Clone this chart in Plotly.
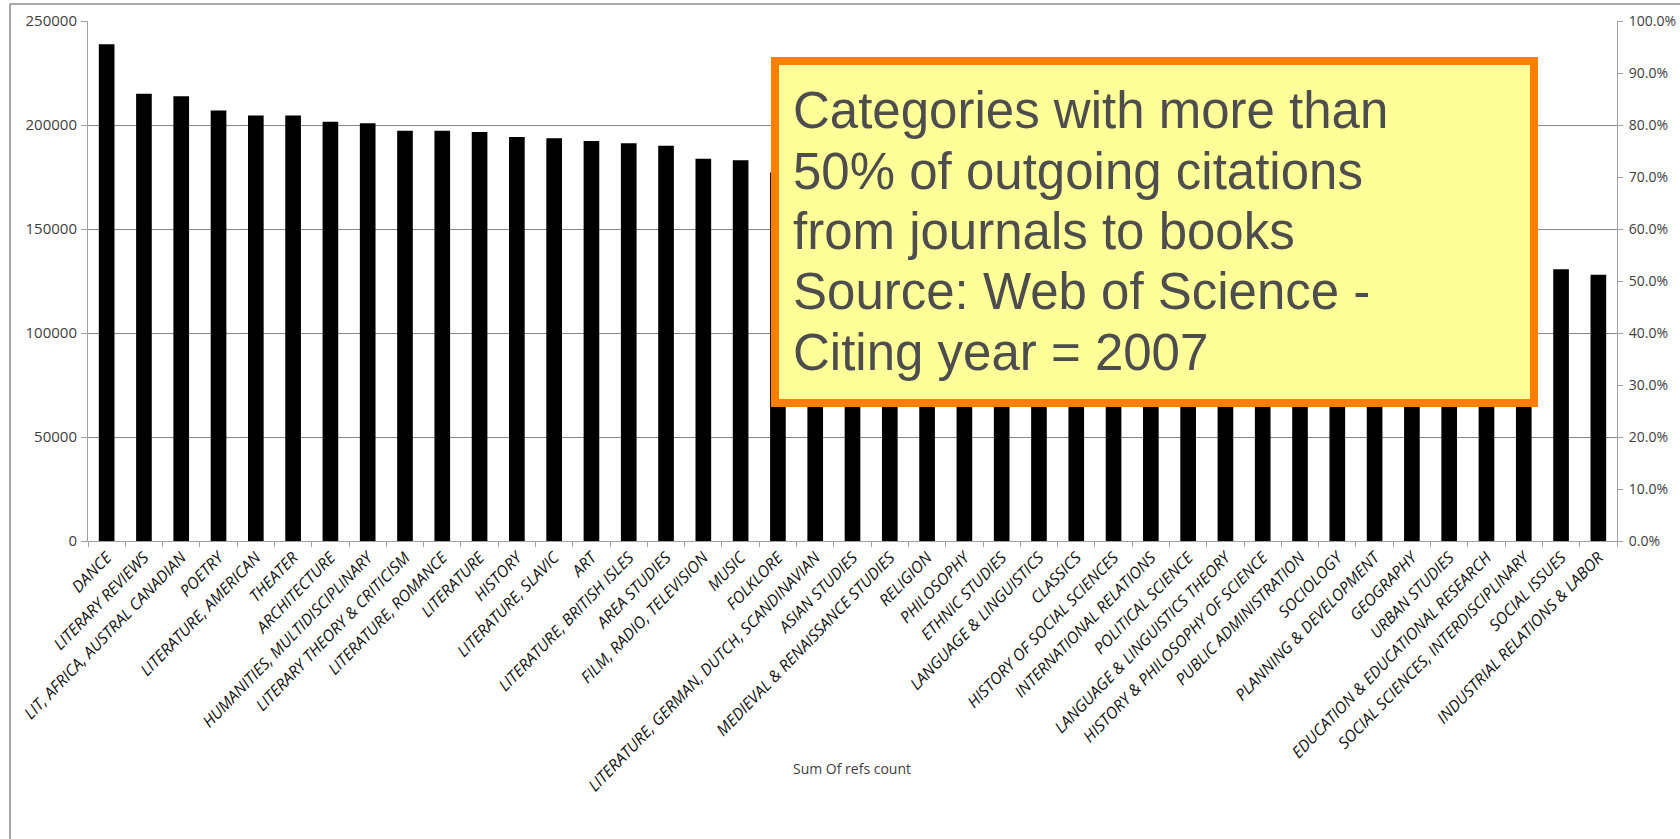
import plotly.graph_objects as go

categories = [
    "DANCE", "LITERARY REVIEWS", "LIT, AFRICA, AUSTRAL CANADIAN", "POETRY",
    "LITERATURE, AMERICAN", "THEATER", "ARCHITECTURE", "HUMANITIES, MULTIDISCIPLINARY",
    "LITERARY THEORY & CRITICISM", "LITERATURE, ROMANCE", "LITERATURE", "HISTORY",
    "LITERATURE, SLAVIC", "ART", "LITERATURE, BRITISH ISLES", "AREA STUDIES",
    "FILM, RADIO, TELEVISION", "MUSIC", "FOLKLORE",
    "LITERATURE, GERMAN, DUTCH, SCANDINAVIAN", "ASIAN STUDIES",
    "MEDIEVAL & RENAISSANCE STUDIES", "RELIGION", "PHILOSOPHY", "ETHNIC STUDIES",
    "LANGUAGE & LINGUISTICS", "CLASSICS", "HISTORY OF SOCIAL SCIENCES",
    "INTERNATIONAL RELATIONS", "POLITICAL SCIENCE", "LANGUAGE & LINGUISTICS THEORY",
    "HISTORY & PHILOSOPHY OF SCIENCE", "PUBLIC ADMINISTRATION", "SOCIOLOGY",
    "PLANNING & DEVELOPMENT", "GEOGRAPHY", "URBAN STUDIES",
    "EDUCATION & EDUCATIONAL RESEARCH", "SOCIAL SCIENCES, INTERDISCIPLINARY",
    "SOCIAL ISSUES", "INDUSTRIAL RELATIONS & LABOR",
]

refs_count = [
    238800, 215000, 213800, 207000, 204600, 204600, 201600, 200900,
    197200, 197200, 196600, 194200, 193600, 192300, 191200, 190000,
    183800, 183100, 177200,
    175000, 172000, 169000, 166500, 164000, 161000, 158500, 156000,
    154000, 151500, 149500, 147000, 145000, 143000, 141000, 139000,
    137500, 135500, 133500, 132000,
    130700, 128000,
]

left_ticks = [0, 50000, 100000, 150000, 200000, 250000]
right_ticks = [0.0, 0.1, 0.2, 0.3, 0.4, 0.5, 0.6, 0.7, 0.8, 0.9, 1.0]

box_lines = [
    "Categories with more than",
    "50% of outgoing citations",
    "from journals to books",
    "Source: Web of Science -",
    "Citing year = 2007",
]
axis_title = "Sum Of refs count"

W, H = 1680, 839
L, R, T, B = 88, 63, 21, 298
PW, PH = W - L - R, H - T - B


def px(x):
    return (x - L) / PW


def py(y):
    return (H - B - y) / PH


fig = go.Figure()
fig.add_trace(go.Bar(
    x=categories, y=refs_count, marker=dict(color="#000000", line=dict(width=0)),
    showlegend=False,
))
# empty companion trace so that the secondary (percentage) axis is drawn
fig.add_trace(go.Scatter(
    x=categories[:1], y=[None], yaxis="y2", mode="lines",
    showlegend=False, hoverinfo="skip",
))

grid_c = "#868686"
axis_c = "#a0a0a0"

fig.update_layout(
    width=W, height=H,
    margin=dict(l=L, r=R, t=T, b=B, autoexpand=False),
    paper_bgcolor="white", plot_bgcolor="white",
    bargap=0.58,
    xaxis=dict(
        type="category", showgrid=False, showline=True, linecolor=axis_c, linewidth=1,
        ticks="outside", tickson="boundaries", ticklen=5, tickcolor=axis_c,
        tickangle=-46,
        tickfont=dict(family="Open Sans", size=16, color="#111111", style="italic"),
        zeroline=False,
    ),
    yaxis=dict(
        range=[0, 250000], tickvals=left_ticks, tickformat="d",
        showgrid=True, gridcolor=grid_c, gridwidth=1,
        showline=True, linecolor=axis_c, linewidth=1,
        ticks="outside", ticklen=6, tickcolor=axis_c,
        ticklabelstandoff=1,
        tickfont=dict(family="Open Sans", size=15, color="#404040"), zeroline=False,
    ),
    yaxis2=dict(
        overlaying="y", side="right", range=[0, 1], tickvals=right_ticks,
        tickformat=".1%", showgrid=False,
        showline=True, linecolor=axis_c, linewidth=1,
        ticks="outside", ticklen=5, tickcolor=axis_c,
        ticklabelstandoff=3,
        tickfont=dict(family="Open Sans", size=14, color="#404040"), zeroline=False,
    ),
)

# outer frame (slide border)
fig.add_shape(type="line", xref="paper", yref="paper",
              x0=px(10), x1=px(W + 5), y0=py(4), y1=py(4),
              line=dict(color="#8c8c8c", width=1.5))
fig.add_shape(type="line", xref="paper", yref="paper",
              x0=px(10), x1=px(10), y0=py(4), y1=py(H + 5),
              line=dict(color="#8c8c8c", width=1.5))

# yellow callout box
fig.add_shape(type="rect", xref="paper", yref="paper",
              x0=px(775), x1=px(1534), y0=py(61), y1=py(403),
              fillcolor="#ffff99", line=dict(color="#ff8000", width=8), layer="above")

line_centers = [110.5, 171, 231, 291.5, 352.5]
fsize = 51
for line, yc in zip(box_lines, line_centers):
    fig.add_annotation(
        x=px(791), y=py(yc), xref="paper", yref="paper",
        xanchor="left", yanchor="middle", showarrow=False, text=line,
        font=dict(family="Liberation Sans, Arial", size=fsize, color="#4d4d4d"),
    )

fig.add_annotation(
    x=px(852), y=py(768), xref="paper", yref="paper", xanchor="center", yanchor="middle",
    showarrow=False, text=axis_title,
    font=dict(family="Open Sans", size=14, color="#404040"),
)

fig.write_html("out.html", config={"displayModeBar": False},
               post_script="document.body.style.margin='0';")
